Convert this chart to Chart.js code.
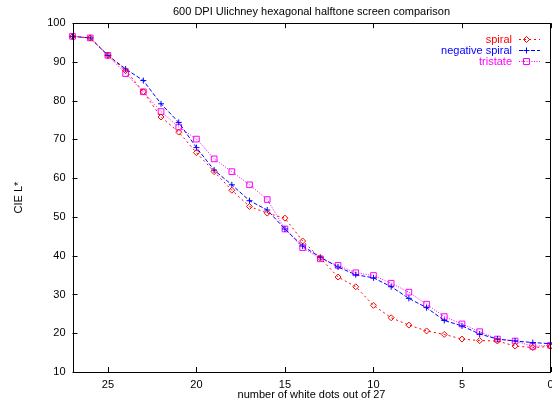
<!DOCTYPE html>
<html>
<head>
<meta charset="utf-8">
<script src="https://cdn.jsdelivr.net/npm/chart.js@4"></script>
<style>
  body { margin: 0; background: #fff; }
  canvas { display: block; }
</style>
</head>
<body>
<canvas id="chart" width="552" height="402"></canvas>
<script>
// number of white dots, 27 down to 0
const dots = [27, 26, 25, 24, 23, 22, 21, 20, 19, 18, 17, 16, 15, 14, 13, 12, 11, 10, 9, 8, 7, 6, 5, 4, 3, 2, 1, 0];

const spiral = [96.6, 96.2, 91.7, 87.8, 82.3, 75.8, 71.9, 66.6, 61.7, 56.9, 52.7, 51.0, 49.7, 43.8,
    39.4, 34.5, 32.0, 27.2, 24.0, 22.1, 20.6, 19.7, 18.5, 18.1, 18.0, 16.7, 16.3, 16.6];
const negSpiral = [96.6, 96.2, 91.7, 88.2, 85.2, 79.2, 74.4, 67.9, 62.1, 58.3, 54.2, 51.8, 46.9, 42.5,
    39.6, 37.1, 35.1, 34.3, 32.0, 29.0, 26.6, 23.3, 21.9, 19.8, 18.5, 18.0, 17.6, 17.3];
const tristate = [96.6, 96.2, 91.7, 87.0, 82.3, 77.2, 73.2, 70.1, 65.0, 61.7, 58.3, 54.5, 46.9, 42.1,
    39.2, 37.5, 35.6, 34.9, 32.9, 30.6, 27.5, 24.3, 22.4, 20.4, 18.5, 18.0, 16.6, 16.9];

const seriesNames = ['spiral', 'negative spiral', 'tristate'];
const FONT = 'Liberation Sans, Arial, sans-serif';

function toPoints(vals) {
    return vals.map((v, i) => ({ x: dots[i], y: v }));
}

const styles = [
    { color: '#ff0000', dash: [2, 3], point: 'rectRot', r: 3 },
    { color: '#0000ff', dash: [4, 2], point: 'cross', r: 3 },
    { color: '#ff00ff', dash: [1, 1.5], point: 'rect', r: 4 }
];

const allSeries = [spiral, negSpiral, tristate];
const datasets = allSeries.map((vals, i) => ({
    label: seriesNames[i],
    data: toPoints(vals),
    borderColor: styles[i].color,
    borderWidth: 1,
    borderDash: styles[i].dash,
    pointStyle: styles[i].point,
    pointRadius: styles[i].r,
    pointBorderColor: styles[i].color,
    pointBackgroundColor: 'rgba(0,0,0,0)',
    pointBorderWidth: 1,
    tension: 0,
    clip: false
}));

// gnuplot style: inward ticks on all four sides, full frame, legend inside
const framePlugin = {
    id: 'frame',
    afterDraw(chart) {
        const ctx = chart.ctx;
        const a = chart.chartArea;
        const xs = chart.scales.x;
        const ys = chart.scales.y;
        ctx.save();
        ctx.strokeStyle = '#000';
        ctx.lineWidth = 1;
        ctx.setLineDash([]);
        ctx.beginPath();
        xs.ticks.forEach(t => {
            const px = Math.round(xs.getPixelForValue(t.value)) + 0.5;
            ctx.moveTo(px, a.bottom); ctx.lineTo(px, a.bottom - 5);
            ctx.moveTo(px, a.top); ctx.lineTo(px, a.top + 5);
        });
        ys.ticks.forEach(t => {
            const py = Math.round(ys.getPixelForValue(t.value)) + 0.5;
            ctx.moveTo(a.left, py); ctx.lineTo(a.left + 5, py);
            ctx.moveTo(a.right, py); ctx.lineTo(a.right - 5, py);
        });
        ctx.stroke();
        ctx.strokeRect(Math.round(a.left) + 0.5, Math.round(a.top) + 0.5,
            Math.round(a.right - a.left) - 1, Math.round(a.bottom - a.top));

        // legend
        ctx.font = '11px ' + FONT;
        ctx.textAlign = 'right';
        ctx.textBaseline = 'middle';
        const rowsY = [39.5, 50.5, 61.5];
        seriesNames.forEach((name, i) => {
            const st = styles[i];
            const y = rowsY[i];
            ctx.fillStyle = st.color;
            ctx.fillText(name, 512, y);
            ctx.strokeStyle = st.color;
            ctx.setLineDash(st.dash);
            ctx.beginPath();
            ctx.moveTo(519, y); ctx.lineTo(540, y);
            ctx.stroke();
            ctx.setLineDash([]);
            ctx.beginPath();
            const cx = 526.5;
            if (st.point === 'rectRot') {
                ctx.moveTo(cx, y - 3); ctx.lineTo(cx + 3, y); ctx.lineTo(cx, y + 3); ctx.lineTo(cx - 3, y); ctx.closePath();
            } else if (st.point === 'cross') {
                ctx.moveTo(cx - 3, y); ctx.lineTo(cx + 3, y);
                ctx.moveTo(cx, y - 3); ctx.lineTo(cx, y + 3);
            } else {
                ctx.rect(cx - 3, y - 3, 6, 6);
            }
            ctx.stroke();
        });
        ctx.restore();
    }
};

new Chart(document.getElementById('chart'), {
    type: 'line',
    data: { datasets: datasets },
    options: {
        responsive: false,
        animation: false,
        layout: { autoPadding: false, padding: { left: 0, right: 1.5, top: 0, bottom: 0 } },
        plugins: {
            legend: { display: false },
            tooltip: { enabled: false },
            title: {
                display: true,
                fullSize: false,
                text: '600 DPI Ulichney hexagonal halftone screen comparison',
                color: '#000',
                font: { family: FONT, size: 11, weight: 'normal' },
                padding: { top: 5, bottom: 5 }
            }
        },
        scales: {
            x: {
                type: 'linear',
                reverse: true,
                min: 0,
                max: 27,
                grid: { display: false, drawTicks: false },
                border: { display: false },
                ticks: {
                    stepSize: 5,
                    includeBounds: false,
                    color: '#000',
                    padding: 6,
                    maxRotation: 0,
                    font: { family: FONT, size: 11 }
                },
                title: {
                    display: true,
                    text: 'number of white dots out of 27',
                    color: '#000',
                    font: { family: FONT, size: 11 },
                    padding: { top: 0, bottom: 0 }
                },
                afterFit(scale) {
                    scale.height = 30;
                    scale.paddingLeft = 0;
                    scale.paddingRight = 0;
                }
            },
            y: {
                min: 10,
                max: 100,
                grid: { display: false, drawTicks: false },
                border: { display: false },
                ticks: {
                    stepSize: 10,
                    color: '#000',
                    padding: 7,
                    font: { family: FONT, size: 11 }
                },
                title: {
                    display: true,
                    text: 'CIE L*',
                    color: '#000',
                    font: { family: FONT, size: 11 },
                    padding: { top: 12, bottom: 0 }
                },
                afterFit(scale) {
                    scale.width = 72.5;
                    scale.paddingTop = 0;
                    scale.paddingBottom = 0;
                }
            }
        }
    },
    plugins: [framePlugin]
});
</script>
</body>
</html>
